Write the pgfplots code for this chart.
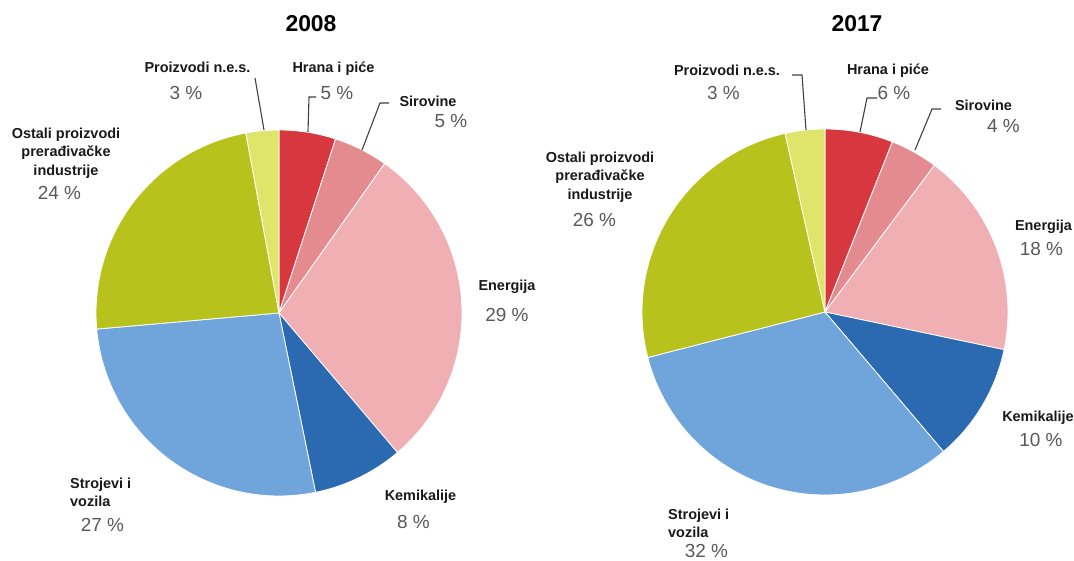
\documentclass[border=0pt]{standalone}
\usepackage{fontspec}
\setmainfont{Liberation Sans}
\usepackage{pgfplots}
\pgfplotsset{compat=1.18}
\definecolor{cHrana}{HTML}{D7373F}
\definecolor{cSir}{HTML}{E48B8F}
\definecolor{cEner}{HTML}{F0AFB2}
\definecolor{cKem}{HTML}{2B69B0}
\definecolor{cStroj}{HTML}{70A5DC}
\definecolor{cOst}{HTML}{B8C21D}
\definecolor{cProiz}{HTML}{DFE56B}
\definecolor{pct}{HTML}{595959}
\definecolor{lead}{HTML}{404040}
\tikzset{
  lab/.style={font=\bfseries\fontsize{14.5}{18.5}\selectfont, inner sep=0pt, text=black!90},
  pc/.style={font=\fontsize{19}{20}\selectfont, inner sep=0pt, text=pct},
  ttl/.style={font=\bfseries\fontsize{23}{24}\selectfont, inner sep=0pt},
  ld/.style={draw=lead, line width=1.1pt}
}
% slice = (cumulative start %, cumulative end %) clockwise from 12 o'clock
% 2008: Hrana 5.0, Sirovine 4.8, Energija 29.0, Kemikalije 8.0, Strojevi 26.8, Ostali 23.5, Proizvodi 2.9
% 2017: Hrana 6.0, Sirovine 4.2, Energija 18.1, Kemikalije 10.5, Strojevi 32.2, Ostali 25.5, Proizvodi 3.5
\newcommand{\slice}[5]{% cx, cy, from, to, colour
  \addplot[fill=#5, draw=white, line width=0.8pt, domain=#3:#4, samples=60, variable=\t]
    ({#1+183*sin(3.6*\t)},{#2+183*cos(3.6*\t)}) -- (axis cs:#1,#2) -- cycle;
}
\begin{document}
\begin{tikzpicture}
\begin{axis}[
  scale only axis, width=1074bp, height=561bp,
  xmin=0, xmax=1074, ymin=0, ymax=561,
  hide axis, clip=false
]
\path (axis cs:0,0) rectangle (axis cs:1074,561);
% ---- 2008 ----
\slice{279}{248}{0}{5.0}{cHrana}
\slice{279}{248}{5.0}{9.8}{cSir}
\slice{279}{248}{9.8}{38.8}{cEner}
\slice{279}{248}{38.8}{46.8}{cKem}
\slice{279}{248}{46.8}{73.6}{cStroj}
\slice{279}{248}{73.6}{97.1}{cOst}
\slice{279}{248}{97.1}{100}{cProiz}
% ---- 2017 ----
\slice{825}{249}{0}{6.0}{cHrana}
\slice{825}{249}{6.0}{10.2}{cSir}
\slice{825}{249}{10.2}{28.3}{cEner}
\slice{825}{249}{28.3}{38.8}{cKem}
\slice{825}{249}{38.8}{71.0}{cStroj}
\slice{825}{249}{71.0}{96.5}{cOst}
\slice{825}{249}{96.5}{100}{cProiz}

% titles
\node[ttl] at (axis cs:311,537) {2008};
\node[ttl] at (axis cs:857,537) {2017};

% 2008 labels
\node[lab] at (axis cs:197.5,494) {Proizvodi n.e.s.};
\node[pc] at (axis cs:186,468) {3 \%};
\draw[ld] (axis cs:255,483) -- (axis cs:264,431);
\node[lab] at (axis cs:333.5,492) {Hrana i piće};
\node[pc] at (axis cs:337,468) {5 \%};
\draw[ld] (axis cs:316,464) -- (axis cs:309,464) -- (axis cs:308,429);
\node[lab] at (axis cs:428,460) {Sirovine};
\node[pc] at (axis cs:451,440) {5 \%};
\draw[ld] (axis cs:389,458) -- (axis cs:380,458) -- (axis cs:362,411);
\node[lab, align=center] at (axis cs:66,408) {Ostali proizvodi\\prerađivačke\\industrije};
\node[pc] at (axis cs:59.5,368) {24 \%};
\node[lab] at (axis cs:507,274) {Energija};
\node[pc] at (axis cs:507,246) {29 \%};
\node[lab] at (axis cs:420.5,64) {Kemikalije};
\node[pc] at (axis cs:413.5,39) {8 \%};
\node[lab, align=left, anchor=west] at (axis cs:70,68.5) {Strojevi i\\vozila};
\node[pc] at (axis cs:102.5,36) {27 \%};

% 2017 labels
\node[lab] at (axis cs:727,491) {Proizvodi n.e.s.};
\node[pc] at (axis cs:723.5,468) {3 \%};
\draw[ld] (axis cs:792,486) -- (axis cs:802,486) -- (axis cs:806,431);
\node[lab] at (axis cs:888,490) {Hrana i piće};
\node[pc] at (axis cs:894,468) {6 \%};
\draw[ld] (axis cs:877,463) -- (axis cs:867,463) -- (axis cs:860,429);
\node[lab] at (axis cs:983.5,456) {Sirovine};
\node[pc] at (axis cs:1003.5,435) {4 \%};
\draw[ld] (axis cs:941,452) -- (axis cs:932,452) -- (axis cs:915,411);
\node[lab, align=center] at (axis cs:600,384) {Ostali proizvodi\\prerađivačke\\industrije};
\node[pc] at (axis cs:594.5,341) {26 \%};
\node[lab] at (axis cs:1043.5,334) {Energija};
\node[pc] at (axis cs:1041.5,312) {18 \%};
\node[lab] at (axis cs:1038,143) {Kemikalije};
\node[pc] at (axis cs:1041,121) {10 \%};
\node[lab, align=left, anchor=west] at (axis cs:668,37.5) {Strojevi i\\vozila};
\node[pc] at (axis cs:706.5,10) {32 \%};
\end{axis}
\end{tikzpicture}
\end{document}
